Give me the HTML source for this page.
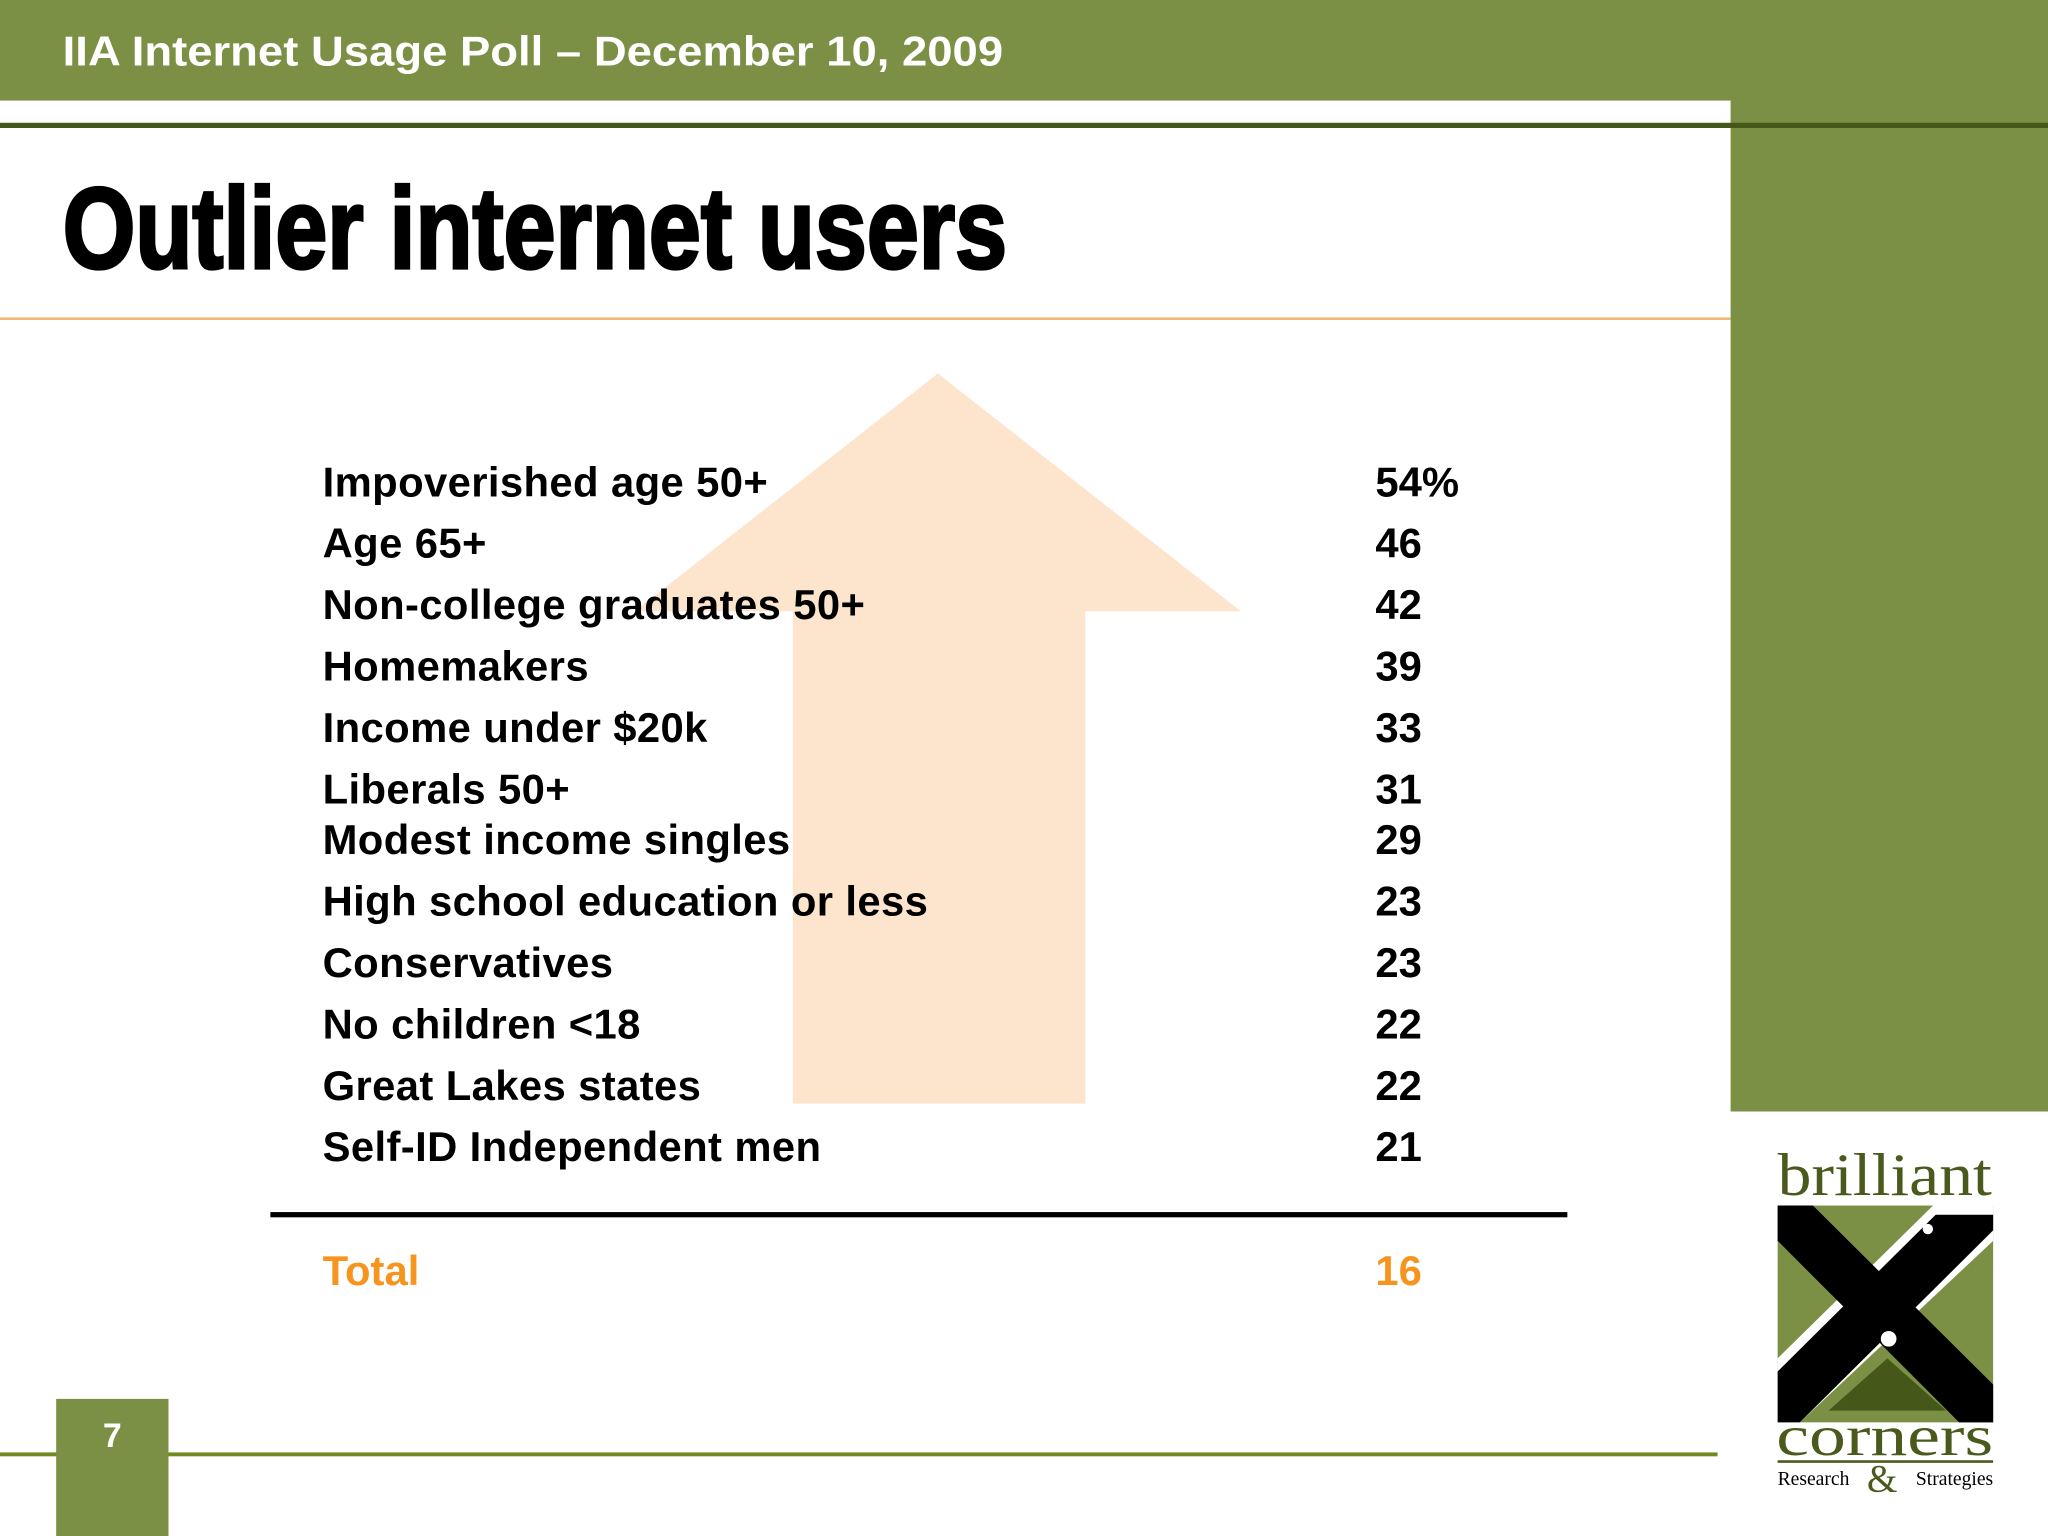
<!DOCTYPE html>
<html><head><meta charset="utf-8"><style>
html,body{margin:0;padding:0;background:#fff}
svg{display:block}
text{font-family:"Liberation Sans",sans-serif}
</style></head><body>
<svg id="slide" width="2048" height="1536" viewBox="0 0 1568 1176" xmlns="http://www.w3.org/2000/svg">
<rect x="0" y="0" width="1568" height="77" fill="#7b9044"/>
<rect x="1325" y="0" width="243" height="851" fill="#7b9044"/>
<rect x="0" y="94" width="1568" height="4" fill="#45581a"/>
<text x="48" y="50" font-size="32" font-weight="bold" fill="#fff" textLength="720" lengthAdjust="spacingAndGlyphs">IIA Internet Usage Poll – December 10, 2009</text>
<text x="48" y="205" font-size="88" font-weight="bold" fill="#000" textLength="723" lengthAdjust="spacingAndGlyphs" stroke="#000" stroke-width="2.5" style="font-family:'Liberation Sans Narrow','Liberation Sans',sans-serif">Outlier internet users</text>
<rect x="0" y="243" width="1325" height="2" fill="#f2b878"/>
<polygon points="718,286 950,468 831,468 831,845 607,845 607,468 486,468" fill="#fde4cc"/>
<g id="rows"></g>
<rect x="207" y="928" width="993" height="4" fill="#000"/>
<text x="247" y="984" font-size="32" font-weight="bold" fill="#f7941d">Total</text>
<text x="1053" y="984" font-size="32" font-weight="bold" fill="#f7941d">16</text>
<rect x="0" y="1112" width="1315" height="3" fill="#6f8a1f"/>
<rect x="43" y="1071" width="86" height="105" fill="#7b9044"/>
<text x="86" y="1108" font-size="26" font-weight="bold" fill="#fff" text-anchor="middle">7</text>
<g>
<text x="1443" y="915" font-size="46" fill="#4a5a1c" text-anchor="middle" textLength="164" lengthAdjust="spacingAndGlyphs" style="font-family:'Liberation Serif',serif">brilliant</text>
<rect x="1361" y="923" width="165" height="166" fill="#7b9044"/>
<polygon points="1361,1040 1480,923 1526,923 1526,950 1378,1089 1361,1089" fill="#fff"/>
<polygon points="1361,1050 1482,930 1526,930 1526,942 1378,1089 1361,1089" fill="#000"/>
<polygon points="1388,923 1526,1060 1526,1089 1500,1089 1361,950 1361,923" fill="#000"/>
<polygon points="1400,1080 1445,1040 1490,1080" fill="#45581a"/>
<circle cx="1446" cy="1025" r="6" fill="#fff"/>
<circle cx="1476" cy="941" r="4" fill="#fff"/>
<text x="1443" y="1114" font-size="44" fill="#4a5a1c" text-anchor="middle" textLength="166" lengthAdjust="spacingAndGlyphs" style="font-family:'Liberation Serif',serif">corners</text>
<rect x="1361" y="1118" width="165" height="2" fill="#4a5a1c"/>
<text x="1361" y="1137" font-size="15" fill="#000" style="font-family:'Liberation Serif',serif">Research</text>
<text x="1441" y="1142" font-size="30" fill="#4a5a1c" text-anchor="middle" style="font-family:'Liberation Serif',serif">&amp;</text>
<text x="1526" y="1137" font-size="15" fill="#000" text-anchor="end" style="font-family:'Liberation Serif',serif">Strategies</text>
</g>
</svg>
<script>
const categories = ["Impoverished age 50+","Age 65+","Non-college graduates 50+","Homemakers","Income under $20k","Liberals 50+","Modest income singles","High school education or less","Conservatives","No children <18","Great Lakes states","Self-ID Independent men"];
const values = [54,46,42,39,33,31,29,23,23,22,22,21];
const valueLabels = ["54%","46","42","39","33","31","29","23","23","22","22","21"];
const baselines = [380,427,474,521,568,615,654,701,748,795,842,889];
const g = document.getElementById('rows');
const NS = "http://www.w3.org/2000/svg";
categories.forEach((c,i)=>{
  const t = document.createElementNS(NS,'text');
  t.setAttribute('x',247); t.setAttribute('y',baselines[i]);
  t.setAttribute('font-size',32); t.setAttribute('font-weight','bold');
  t.setAttribute('letter-spacing','0.3');
  t.textContent = c;
  
  
  g.appendChild(t);
  const v = document.createElementNS(NS,'text');
  v.setAttribute('x',1053); v.setAttribute('y',baselines[i]);
  v.setAttribute('font-size',32); v.setAttribute('font-weight','bold');
  v.textContent = valueLabels[i] !== undefined ? valueLabels[i] : String(values[i]);
  
  
  g.appendChild(v);
});
</script>
</body></html>
